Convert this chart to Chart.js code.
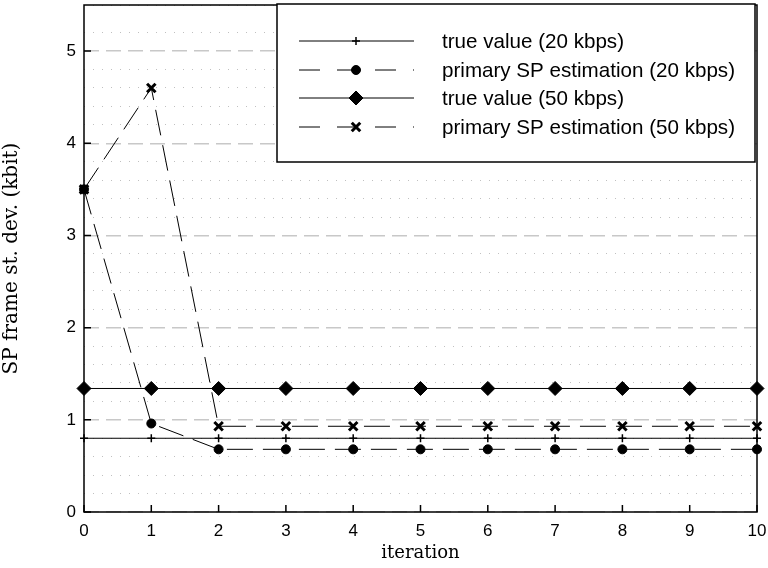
<!DOCTYPE html>
<html>
<head>
<meta charset="utf-8">
<script src="https://cdn.jsdelivr.net/npm/chart.js@4/dist/chart.umd.min.js"></script>
<style>
  body { margin: 0; background: #fff; }
  #wrap { width: 768px; height: 568px; }
</style>
</head>
<body>
<div id="wrap"><canvas id="spChart" width="768" height="568"></canvas></div>
<script>
const iterations = [0, 1, 2, 3, 4, 5, 6, 7, 8, 9, 10];
const trueValue20 = [0.8, 0.8, 0.8, 0.8, 0.8, 0.8, 0.8, 0.8, 0.8, 0.8, 0.8];
const spEstimate20 = [3.5, 0.96, 0.68, 0.68, 0.68, 0.68, 0.68, 0.68, 0.68, 0.68, 0.68];
const trueValue50 = [1.34, 1.34, 1.34, 1.34, 1.34, 1.34, 1.34, 1.34, 1.34, 1.34, 1.34];
const spEstimate50 = [3.5, 4.6, 0.93, 0.93, 0.93, 0.93, 0.93, 0.93, 0.93, 0.93, 0.93];
const seriesNames = [
  'true value (20 kbps)',
  'primary SP estimation (20 kbps)',
  'true value (50 kbps)',
  'primary SP estimation (50 kbps)'
];
const yTicks = [0, 1, 2, 3, 4, 5];

function toPoints(values) {
  return iterations.map((it, i) => ({ x: it, y: values[i] }));
}

const sansFont = "'Liberation Sans', Arial, sans-serif";
const serifFont = "'DejaVu Serif', 'Liberation Serif', serif";

// frame, inward ticks and the boxed legend
const framePlugin = {
  id: 'frame',
  afterDraw(chart) {
    const ctx = chart.ctx;
    const a = chart.chartArea;
    const xs = chart.scales.x;
    const ys = chart.scales.y;
    ctx.save();
    ctx.strokeStyle = '#000';
    ctx.lineWidth = 1.5;
    ctx.setLineDash([]);
    ctx.strokeRect(a.left, a.top, a.right - a.left, a.bottom - a.top);
    ctx.beginPath();
    iterations.forEach(v => {
      const px = xs.getPixelForValue(v);
      ctx.moveTo(px, a.bottom);
      ctx.lineTo(px, a.bottom - 7);
    });
    yTicks.forEach(v => {
      const py = ys.getPixelForValue(v);
      ctx.moveTo(a.left, py);
      ctx.lineTo(a.left + 7, py);
    });
    ctx.stroke();

    // legend box
    const bx = 277, by = 4, bw = 478, bh = 158;
    ctx.fillStyle = '#fff';
    ctx.fillRect(bx, by, bw, bh);
    ctx.strokeRect(bx, by, bw, bh);
    ctx.font = '20.6px ' + sansFont;
    ctx.textBaseline = 'middle';
    chart.data.datasets.forEach((ds, i) => {
      const y = Math.round(41 + i * 28.6);
      ctx.strokeStyle = ds.borderColor;
      ctx.lineWidth = ds.borderWidth;
      ctx.setLineDash(ds.borderDash ? [21, 17] : []);
      ctx.beginPath();
      ctx.moveTo(299, y);
      ctx.lineTo(414, y);
      ctx.stroke();
      ctx.setLineDash([]);
      ctx.fillStyle = '#000';
      ctx.strokeStyle = '#000';
      ctx.lineWidth = ds.pointBorderWidth;
      Chart.helpers.drawPoint(ctx, {
        pointStyle: ds.pointStyle,
        radius: ds.pointRadius,
        rotation: 0,
        borderWidth: ds.pointBorderWidth
      }, 356, y);
      ctx.fillStyle = '#000';
      ctx.fillText(ds.label, 442, y + 1);
    });
    ctx.restore();
  }
};

const ctx = document.getElementById('spChart').getContext('2d');
const spChart = new Chart(ctx, {
  type: 'line',
  data: {
    datasets: [
      {
        label: seriesNames[0],
        data: toPoints(trueValue20),
        borderColor: '#000',
        borderWidth: 1,
        pointStyle: 'cross',
        pointRadius: 4,
        pointBorderWidth: 1.5,
        pointBackgroundColor: '#000',
        pointBorderColor: '#000'
      },
      {
        label: seriesNames[1],
        data: toPoints(spEstimate20),
        borderColor: '#000',
        borderWidth: 1,
        borderDash: [26, 10],
        pointStyle: 'circle',
        pointRadius: 4.5,
        pointBorderWidth: 1,
        pointBackgroundColor: '#000',
        pointBorderColor: '#000'
      },
      {
        label: seriesNames[2],
        data: toPoints(trueValue50),
        borderColor: '#000',
        borderWidth: 1,
        pointStyle: 'rectRot',
        pointRadius: 7,
        pointBorderWidth: 1,
        pointBackgroundColor: '#000',
        pointBorderColor: '#000'
      },
      {
        label: seriesNames[3],
        data: toPoints(spEstimate50),
        borderColor: '#000',
        borderWidth: 1,
        borderDash: [26, 10],
        pointStyle: 'crossRot',
        pointRadius: 6,
        pointBorderWidth: 3,
        pointBackgroundColor: '#000',
        pointBorderColor: '#000'
      }
    ]
  },
  options: {
    responsive: false,
    animation: false,
    clip: false,
    layout: { autoPadding: false, padding: { top: 5, right: 11, left: 0, bottom: 0 } },
    scales: {
      x: {
        type: 'linear',
        min: 0,
        max: 10,
        ticks: {
          stepSize: 1,
          color: '#000',
          font: { family: sansFont, size: 17 },
          padding: 9
        },
        grid: { display: false, drawTicks: false },
        border: { display: false },
        title: {
          display: true,
          text: 'iteration',
          color: '#000',
          font: { family: serifFont, size: 18 },
          padding: { top: 0, bottom: 4 }
        },
        afterFit(scale) {
          scale.height = 56;
          scale.paddingLeft = 0;
          scale.paddingRight = 0;
        }
      },
      yMinor: {
        position: 'left',
        min: 0,
        max: 5.5,
        ticks: { display: false, stepSize: 0.2 },
        grid: {
          drawTicks: false,
          lineWidth: 1,
          color(c) {
            const v = c.tick ? c.tick.value : 0;
            return Math.abs(v - Math.round(v)) < 1e-6 ? 'rgba(0,0,0,0)' : '#c0c0c0';
          }
        },
        border: { display: false, dash: [1, 8] },
        afterFit(scale) {
          scale.width = 0;
          scale.paddingTop = 0;
          scale.paddingBottom = 0;
        }
      },
      y: {
        position: 'left',
        min: 0,
        max: 5.5,
        afterBuildTicks(scale) {
          scale.ticks = yTicks.map(v => ({ value: v }));
        },
        ticks: {
          color: '#000',
          font: { family: sansFont, size: 17 },
          padding: 8
        },
        grid: {
          drawTicks: false,
          lineWidth: 1.5,
          color: '#c8c8c8'
        },
        border: { display: false, dash: [15, 7] },
        title: {
          display: true,
          text: 'SP frame st. dev. (kbit)',
          color: '#000',
          font: { family: serifFont, size: 20 },
          padding: { top: 0, bottom: 2 }
        },
        afterFit(scale) {
          scale.width = 84;
          scale.paddingTop = 0;
          scale.paddingBottom = 0;
        }
      }
    },
    plugins: {
      legend: { display: false },
      tooltip: { enabled: false }
    }
  },
  plugins: [framePlugin]
});
</script>
</body>
</html>
